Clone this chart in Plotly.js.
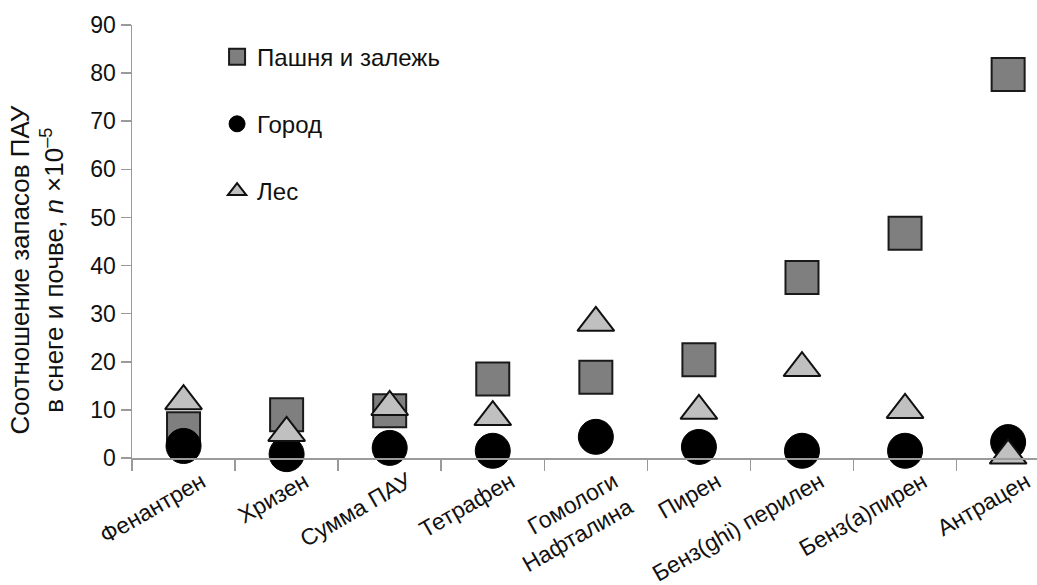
<!DOCTYPE html>
<html><head><meta charset="utf-8">
<script src="https://cdn.plot.ly/plotly-3.0.1.min.js"></script>
<style>html,body{margin:0;padding:0;background:#fff}#chart{width:1037px;height:585px}</style>
</head><body><div id="chart"></div>
<script>
const categories = ['Фенантрен','Хризен','Сумма ПАУ','Тетрафен','Гомологи<br>Нафталина','Пирен','Бенз(ghi) перилен','Бенз(а)пирен','Антрацен'];
const pashnya = [6.1, 9.0, 9.8, 16.4, 16.8, 20.4, 37.5, 46.7, 79.7];
const gorod = [2.5, 0.8, 2.1, 1.5, 4.4, 2.3, 1.5, 1.5, 3.3];
const les = [11.8, 5.2, 10.6, 8.5, 28.1, 9.8, 18.7, 10.0, 0.5];
const yTicks = [0,10,20,30,40,50,60,70,80,90];
const yTitle = 'Соотношение запасов ПАУ<br>в снеге и почве, <i>n</i> ×10<sup>–5</sup>';

const font = 'Liberation Sans, Arial, sans-serif';
const traces = [
  {x: categories, y: pashnya, name: 'Пашня и залежь', type: 'scatter', mode: 'markers', legendgroup: 'a',
   marker: {symbol: 'square', size: 33, color: '#7f7f7f', line: {color: '#1a1a1a', width: 2}}, cliponaxis: false},
  {x: categories, y: gorod, name: 'Город', type: 'scatter', mode: 'markers', legendgroup: 'b',
   marker: {symbol: 'circle', size: 35, color: '#000000', line: {color: '#000', width: 1}}, cliponaxis: false},
  {x: categories, y: les, name: 'Лес', type: 'scatter', mode: 'markers', legendgroup: 'c',
   marker: {symbol: 'triangle-up', size: 32, color: '#c0c0c0', line: {color: '#111', width: 2}}, cliponaxis: false}
];
const layout = {
  width: 1037, height: 585,
  margin: {l: 132, r: 0, t: 25, b: 127},
  paper_bgcolor: '#fff', plot_bgcolor: '#fff',
  font: {family: font, color: '#111', size: 22},
  showlegend: true,
  legend: {x: 0.094, y: 0.978, xanchor: 'left', yanchor: 'top', tracegroupgap: 33,
           font: {size: 24, family: font, color: '#111'}, bgcolor: 'rgba(0,0,0,0)'},
  xaxis: {type: 'category', range: [-0.5, 8.28], showline: true, linecolor: '#9a9a9a', linewidth: 1.5,
          ticks: 'outside', ticklen: 11, tickcolor: '#9a9a9a', tickwidth: 1.5, tickson: 'boundaries',
          showgrid: false, zeroline: false, tickangle: -30, ticklabelshift: 18,
          tickfont: {size: 23, family: font, color: '#111'}},
  yaxis: {range: [0, 90], tickvals: yTicks, showline: true, linecolor: '#9a9a9a', linewidth: 1.5,
          ticks: 'outside', ticklen: 10, tickcolor: '#9a9a9a', tickwidth: 1.5,
          showgrid: false, zeroline: false, tickfont: {size: 23, family: font, color: '#111'}},
  annotations: [{text: yTitle, xref: 'paper', yref: 'paper', x: -0.1044, y: 0.434,
                 xanchor: 'center', yanchor: 'middle', textangle: -90, showarrow: false,
                 font: {size: 26, family: font, color: '#111'}}]
};
Plotly.newPlot('chart', traces, layout, {displayModeBar: false, staticPlot: true});
</script></body></html>
